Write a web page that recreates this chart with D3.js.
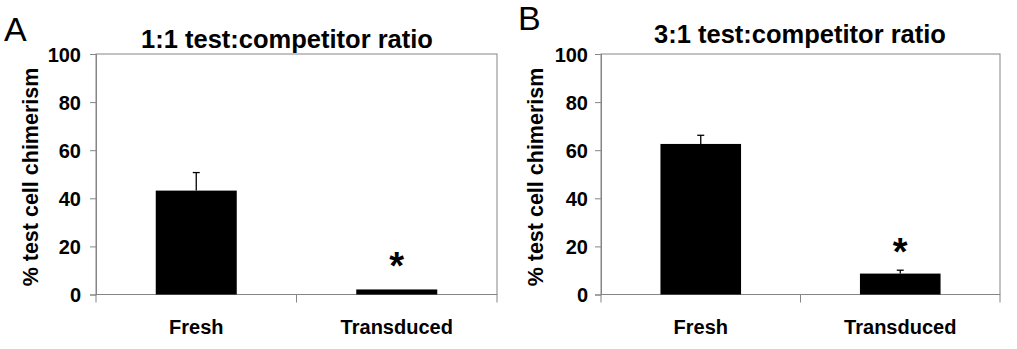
<!DOCTYPE html>
<html>
<head>
<meta charset="utf-8">
<script src="https://cdn.jsdelivr.net/npm/d3@7"></script>
<style>
  body { margin: 0; background: #fff; }
  svg { display: block; font-family: "Liberation Sans", Arial, sans-serif; }
</style>
</head>
<body>
<svg id="chart" width="1017" height="349"></svg>
<script>
// data
const categories = ["Fresh", "Transduced"];
const panelLetters = ["A", "B"];
const panelTitles = ["1:1 test:competitor ratio", "3:1 test:competitor ratio"];
const meansA = [43.2, 2.1];
const errorsA = [7.5, 0];
const meansB = [62.6, 8.7];
const errorsB = [3.6, 1.4];
const significant = [false, true];
const yTicks = [0, 20, 40, 60, 80, 100];
const yLabel = "% test cell chimerism";

// layout for each panel
const panels = [
    { letter: panelLetters[0], title: panelTitles[0], means: meansA, errors: errorsA,
      x0: 96, x1: 497, titleX: 287, titleY: 48, letterX: 4, letterY: 41,
      labelX: 38, tickX: 81, starGap: 38 },
    { letter: panelLetters[1], title: panelTitles[1], means: meansB, errors: errorsB,
      x0: 601, x1: 1000, titleX: 800, titleY: 43, letterX: 518, letterY: 30,
      labelX: 543, tickX: 588, starGap: 33 }
];

const plotTop = 54, plotBottom = 294.5;
const axisColor = "#858585";

var svg = d3.select("#chart");

var y = d3.scaleLinear()
    .domain([0, 100])
    .range([plotBottom, plotTop]);

panels.forEach(p => {
    var x = d3.scaleBand()
        .domain(categories)
        .range([p.x0, p.x1])
        .paddingInner(0.596)
        .paddingOuter(0.298);

    var g = svg.append("g");

    // frame
    g.append("rect")
        .attr("x", p.x0)
        .attr("y", plotTop)
        .attr("width", p.x1 - p.x0)
        .attr("height", plotBottom - plotTop)
        .attr("fill", "none")
        .attr("stroke", axisColor)
        .attr("stroke-width", 1);

    // y axis
    var yAxis = d3.axisLeft(y)
        .tickValues(yTicks)
        .tickSize(6)
        .tickFormat(d3.format("d"));

    var ya = g.append("g")
        .attr("transform", `translate(${p.x0},0)`)
        .call(yAxis)
        .attr("font-size", 20)
        .attr("font-weight", "bold")
        .attr("font-family", "'Liberation Sans', Arial, sans-serif");
    ya.select(".domain").attr("stroke", axisColor);
    ya.selectAll(".tick line").attr("stroke", axisColor);
    ya.selectAll(".tick text")
        .attr("x", p.tickX - p.x0)
        .attr("dy", "0.36em")
        .attr("fill", "#000");

    // category separators below the axis
    var bounds = [p.x0, (p.x0 + p.x1) / 2, p.x1];
    g.selectAll(".sep")
        .data(bounds)
        .join("line")
        .attr("x1", d => d)
        .attr("x2", d => d)
        .attr("y1", plotBottom)
        .attr("y2", plotBottom + 8)
        .attr("stroke", axisColor);

    // x labels
    g.selectAll(".xlab")
        .data(categories)
        .join("text")
        .attr("x", d => x(d) + x.bandwidth() / 2)
        .attr("y", 334)
        .attr("text-anchor", "middle")
        .style("font-size", "20px")
        .style("font-weight", "bold")
        .text(d => d);

    // bars
    g.selectAll(".bar")
        .data(categories)
        .join("rect")
        .attr("x", d => x(d))
        .attr("y", (d, i) => y(p.means[i]))
        .attr("width", x.bandwidth())
        .attr("height", (d, i) => y(0) - y(p.means[i]))
        .attr("fill", "#000");

    // error bars (upper only)
    categories.forEach((c, i) => {
        if (!p.errors[i]) return;
        var cx = x(c) + x.bandwidth() / 2;
        g.append("line")
            .attr("x1", cx).attr("x2", cx)
            .attr("y1", y(p.means[i]))
            .attr("y2", y(p.means[i] + p.errors[i]))
            .attr("stroke", "#000")
            .attr("stroke-width", 1.3);
        g.append("line")
            .attr("x1", cx - 3.5).attr("x2", cx + 3.5)
            .attr("y1", y(p.means[i] + p.errors[i]))
            .attr("y2", y(p.means[i] + p.errors[i]))
            .attr("stroke", "#000")
            .attr("stroke-width", 1.3);
    });

    // significance stars
    categories.forEach((c, i) => {
        if (!significant[i]) return;
        g.append("text")
            .attr("x", x(c) + x.bandwidth() / 2)
            .attr("y", y(p.means[i] + p.errors[i]) - p.starGap)
            .attr("text-anchor", "middle")
            .attr("dy", "0.72em")
            .style("font-size", "38px")
            .style("font-weight", "bold")
            .text("*");
    });

    // y label
    g.append("text")
        .attr("transform", `translate(${p.labelX},177) rotate(-90)`)
        .attr("text-anchor", "middle")
        .style("font-size", "21.5px")
        .style("font-weight", "bold")
        .text(yLabel);

    // title
    g.append("text")
        .attr("x", p.titleX)
        .attr("y", p.titleY)
        .attr("text-anchor", "middle")
        .style("font-size", "25.5px")
        .style("font-weight", "bold")
        .text(p.title);

    // panel letter
    g.append("text")
        .attr("x", p.letterX)
        .attr("y", p.letterY)
        .style("font-size", "34px")
        .text(p.letter);
});
</script>
</body>
</html>
